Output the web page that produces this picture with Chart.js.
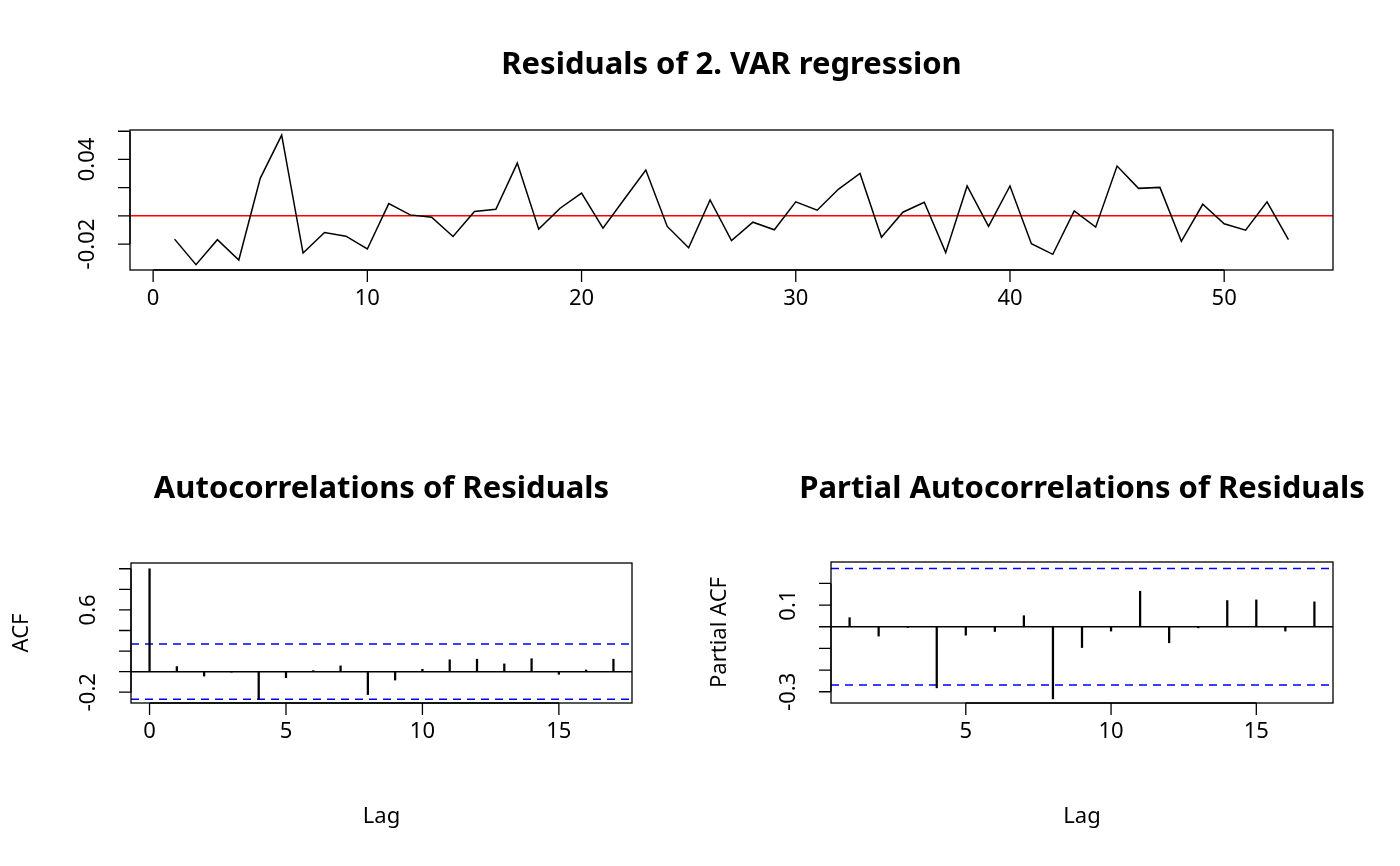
<!DOCTYPE html>
<html><head><meta charset="utf-8">
<script src="https://cdn.jsdelivr.net/npm/chart.js@4"></script>
<style>body{margin:0;background:#fff}canvas{position:absolute;left:0;top:0}</style>
</head><body>
<canvas id="c1" width="1400" height="866"></canvas>
<canvas id="c2" width="1400" height="866"></canvas>
<canvas id="c3" width="1400" height="866"></canvas>
<script>
const residuals = [-0.0165,-0.0346,-0.0169,-0.0313,0.0266,0.0572,-0.0264,-0.0118,-0.0144,-0.0235,
0.0087,0.0007,-0.0009,-0.0146,0.0031,0.0047,0.0374,-0.0094,0.0054,0.0162,
-0.0087,0.0120,0.0325,-0.0075,-0.0226,0.0113,-0.0176,-0.0045,-0.0099,0.0099,
0.0040,0.0190,0.0301,-0.0151,0.0026,0.0096,-0.0261,0.0212,-0.0075,0.0212,
-0.0198,-0.0273,0.0035,-0.0080,0.0353,0.0195,0.0202,-0.0181,0.0082,-0.0056,
-0.0101,0.0099,-0.0169];
const acfLags = [0,1,2,3,4,5,6,7,8,9,10,11,12,13,14,15,16,17];
const acfValues = [1,0.049,-0.043,-0.005,-0.266,-0.059,0.010,0.056,-0.223,-0.082,0.023,0.115,0.121,0.075,0.125,-0.026,0.016,0.121];
const pacfLags = [1,2,3,4,5,6,7,8,9,10,11,12,13,14,15,16,17];
const pacfValues = [0.042,-0.043,-0.003,-0.282,-0.039,-0.022,0.051,-0.333,-0.096,-0.020,0.164,-0.074,-0.005,0.121,0.124,-0.020,0.115];
const ci = 0.2692;
const topYTicks = [-0.02,0,0.02,0.04,0.06], topYLabels = {"-0.02":"-0.02","0.04":"0.04"};
const topXTicks = [0,10,20,30,40,50];
const acfYTicks = [-0.2,0,0.2,0.4,0.6,0.8,1.0], acfYLabels = {"-0.2":"-0.2","0.6":"0.6"};
const acfXTicks = [0,5,10,15];
const pacfYTicks = [-0.3,-0.2,-0.1,0,0.1,0.2], pacfYLabels = {"-0.3":"-0.3","0.1":"0.1"};
const pacfXTicks = [5,10,15];

const FONT = '"Noto Sans", "DejaVu Sans", sans-serif';
function rAxes(cfg){
  return {id:'raxes'+cfg.id, afterDraw(chart){
    const ctx=chart.ctx, a=chart.chartArea, xs=chart.scales.x, ys=chart.scales.y;
    ctx.save();
    ctx.strokeStyle='#000'; ctx.lineWidth=1.3;
    ctx.strokeRect(a.left,a.top,a.right-a.left,a.bottom-a.top);
    ctx.fillStyle='#000';
    ctx.font='22px '+FONT; ctx.textAlign='center'; ctx.textBaseline='middle';
    const xp=cfg.xt.map(v=>xs.getPixelForValue(v));
    ctx.beginPath(); ctx.moveTo(xp[0],a.bottom); ctx.lineTo(xp[xp.length-1],a.bottom);
    xp.forEach(p=>{ctx.moveTo(p,a.bottom);ctx.lineTo(p,a.bottom+12);});
    ctx.stroke();
    xp.forEach((p,i)=>ctx.fillText(String(cfg.xt[i]),p,a.bottom+29));
    const yp=cfg.yt.map(v=>ys.getPixelForValue(v));
    ctx.beginPath(); ctx.moveTo(a.left,Math.min(...yp)); ctx.lineTo(a.left,Math.max(...yp));
    yp.forEach(p=>{ctx.moveTo(a.left,p);ctx.lineTo(a.left-12,p);});
    ctx.stroke();
    cfg.yt.forEach((v,i)=>{const l=cfg.yl[String(v)]; if(!l) return;
      ctx.save(); ctx.translate(a.left-42,yp[i]); ctx.rotate(-Math.PI/2); ctx.fillText(l,0,0); ctx.restore();});
    ctx.font='bold 31px '+FONT;
    ctx.fillText(cfg.title,(a.left+a.right)/2,cfg.titleY);
    ctx.font='22px '+FONT;
    if(cfg.xlab) ctx.fillText(cfg.xlab,(a.left+a.right)/2,817);
    if(cfg.ylab){ctx.save();ctx.translate(cfg.ylabX,(a.top+a.bottom)/2);ctx.rotate(-Math.PI/2);ctx.fillText(cfg.ylab,0,0);ctx.restore();}
    ctx.restore();
  }};
}
function baseOpts(pad,xmin,xmax,ymin,ymax){
  return {responsive:false,animation:false,devicePixelRatio:1,
    layout:{padding:pad},
    plugins:{legend:{display:false},tooltip:{enabled:false}},
    scales:{x:{type:'linear',display:false,offset:false,min:xmin,max:xmax},y:{type:'linear',display:false,min:ymin,max:ymax}}};
}
function hline(y,x0,x1,color,dash){
  return {type:'line',data:[{x:x0,y:y},{x:x1,y:y}],borderColor:color,borderWidth:1.5,borderDash:dash||[],pointRadius:0};
}
new Chart(document.getElementById('c1'),{
  type:'line',
  data:{datasets:[
    {data:residuals.map((v,i)=>({x:i+1,y:v})),borderColor:'#000',borderWidth:1.5,pointRadius:0,tension:0},
    hline(0,-1.08,55.08,'#ff0000')
  ]},
  options:baseOpts({left:130,top:130,right:67,bottom:596},-1.08,55.08,-0.0384,0.0609),
  plugins:[rAxes({id:1,xt:topXTicks,yt:topYTicks,yl:topYLabels,title:'Residuals of 2. VAR regression',titleY:65})]
});
new Chart(document.getElementById('c2'),{
  type:'bar',
  data:{datasets:[
    {type:'bar',data:acfLags.map((l,i)=>({x:l,y:acfValues[i]})),backgroundColor:'#000',barThickness:1.6,borderWidth:0},
    hline(0,-0.68,17.68,'#000'),
    hline(ci,-0.68,17.68,'#0000ff',[8,6]),
    hline(-ci,-0.68,17.68,'#0000ff',[8,6])
  ]},
  options:baseOpts({left:131,top:563,right:768,bottom:163},-0.68,17.68,-0.305,1.056),
  plugins:[rAxes({id:2,xt:acfXTicks,yt:acfYTicks,yl:acfYLabels,title:'Autocorrelations of Residuals',titleY:489,xlab:'Lag',ylab:'ACF',ylabX:22})]
});
new Chart(document.getElementById('c3'),{
  type:'bar',
  data:{datasets:[
    {type:'bar',data:pacfLags.map((l,i)=>({x:l,y:pacfValues[i]})),backgroundColor:'#000',barThickness:1.6,borderWidth:0},
    hline(0,0.36,17.64,'#000'),
    hline(ci,0.36,17.64,'#0000ff',[8,6]),
    hline(-ci,0.36,17.64,'#0000ff',[8,6])
  ]},
  options:baseOpts({left:831,top:562,right:67,bottom:163},0.36,17.64,-0.352,0.299),
  plugins:[rAxes({id:3,xt:pacfXTicks,yt:pacfYTicks,yl:pacfYLabels,title:'Partial Autocorrelations of Residuals',titleY:489,xlab:'Lag',ylab:'Partial ACF',ylabX:720})]
});
</script></body></html>
